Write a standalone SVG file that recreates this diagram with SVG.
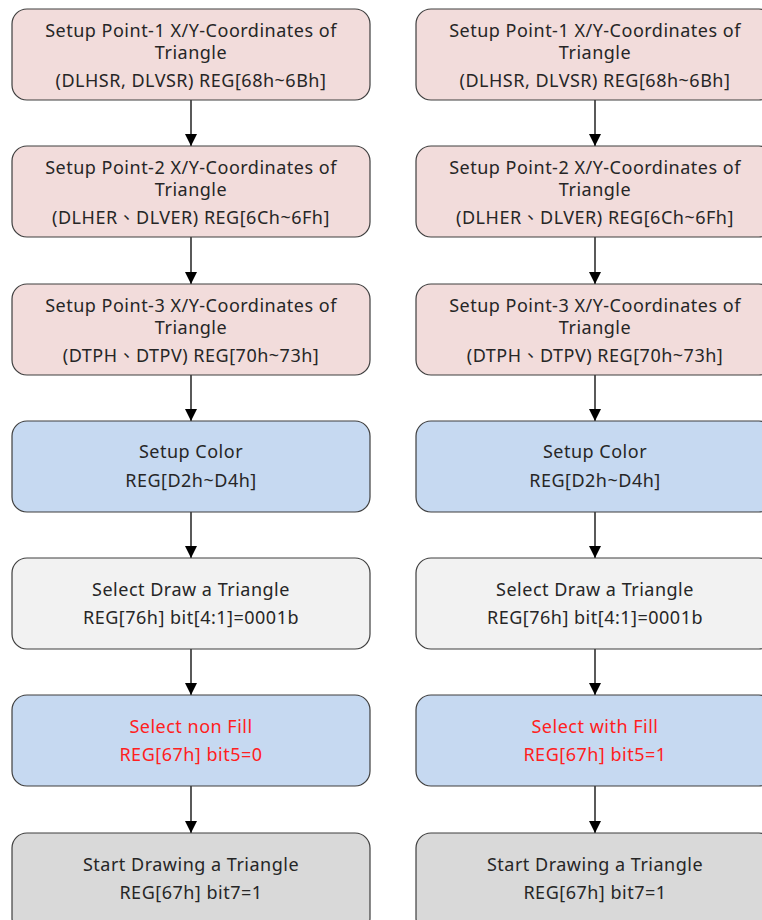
<svg xmlns="http://www.w3.org/2000/svg" width="762" height="920" viewBox="0 0 762 920">
<defs>
<marker id="ah" markerWidth="12" markerHeight="12" refX="10" refY="5" orient="auto" markerUnits="userSpaceOnUse" viewBox="0 0 10 10">
<path d="M0,0 L10,5 L0,10 z" fill="#000"/>
</marker>
<style>
.box{stroke:#3f3f3f;stroke-width:1.2}
.pink{fill:#f2dcdb}
.blue{fill:#c6d9f1}
.light{fill:#f2f2f2}
.gray{fill:#d9d9d9}
text{font-family:"Noto Sans","Noto Sans CJK TC",sans-serif;font-size:18px;letter-spacing:0.5px;fill:#262626;text-anchor:middle}
.red{fill:#ff2020}
.conn{stroke:#000;stroke-width:1.3;fill:none}
</style>
</defs>
<g id="connectors">
<line class="conn" x1="191" y1="100" x2="191" y2="146" marker-end="url(#ah)"/>
<line class="conn" x1="191" y1="237" x2="191" y2="284" marker-end="url(#ah)"/>
<line class="conn" x1="191" y1="375" x2="191" y2="421" marker-end="url(#ah)"/>
<line class="conn" x1="191" y1="512" x2="191" y2="558" marker-end="url(#ah)"/>
<line class="conn" x1="191" y1="649" x2="191" y2="695" marker-end="url(#ah)"/>
<line class="conn" x1="191" y1="786" x2="191" y2="833" marker-end="url(#ah)"/>
<line class="conn" x1="595" y1="100" x2="595" y2="146" marker-end="url(#ah)"/>
<line class="conn" x1="595" y1="237" x2="595" y2="284" marker-end="url(#ah)"/>
<line class="conn" x1="595" y1="375" x2="595" y2="421" marker-end="url(#ah)"/>
<line class="conn" x1="595" y1="512" x2="595" y2="558" marker-end="url(#ah)"/>
<line class="conn" x1="595" y1="649" x2="595" y2="695" marker-end="url(#ah)"/>
<line class="conn" x1="595" y1="786" x2="595" y2="833" marker-end="url(#ah)"/>
</g>
<g id="L1"><rect class="box pink" x="12" y="9" width="358" height="91" rx="15"/>
<text x="191" y="37">Setup Point-1 X/Y-Coordinates of</text><text x="191" y="59">Triangle</text><text x="191" y="87">(DLHSR, DLVSR) REG[68h~6Bh]</text></g>
<g id="L2"><rect class="box pink" x="12" y="146" width="358" height="91" rx="15"/>
<text x="191" y="174">Setup Point-2 X/Y-Coordinates of</text><text x="191" y="196">Triangle</text><text x="191" y="224">(DLHER、DLVER) REG[6Ch~6Fh]</text></g>
<g id="L3"><rect class="box pink" x="12" y="284" width="358" height="91" rx="15"/>
<text x="191" y="312">Setup Point-3 X/Y-Coordinates of</text><text x="191" y="334">Triangle</text><text x="191" y="362">(DTPH、DTPV) REG[70h~73h]</text></g>
<g id="L4"><rect class="box blue" x="12" y="421" width="358" height="91" rx="15"/>
<text x="191" y="458">Setup Color</text><text x="191" y="487">REG[D2h~D4h]</text></g>
<g id="L5"><rect class="box light" x="12" y="558" width="358" height="91" rx="15"/>
<text x="191" y="596">Select Draw a Triangle</text><text x="191" y="624">REG[76h] bit[4:1]=0001b</text></g>
<g id="L6"><rect class="box blue" x="12" y="695" width="358" height="91" rx="15"/>
<text class="red" x="191" y="733">Select non Fill</text><text class="red" x="191" y="761">REG[67h] bit5=0</text></g>
<g id="L7"><rect class="box gray" x="12" y="833" width="358" height="100" rx="15"/>
<text x="191" y="871">Start Drawing a Triangle</text><text x="191" y="899">REG[67h] bit7=1</text></g>
<g id="R1"><rect class="box pink" x="416" y="9" width="358" height="91" rx="15"/>
<text x="595" y="37">Setup Point-1 X/Y-Coordinates of</text><text x="595" y="59">Triangle</text><text x="595" y="87">(DLHSR, DLVSR) REG[68h~6Bh]</text></g>
<g id="R2"><rect class="box pink" x="416" y="146" width="358" height="91" rx="15"/>
<text x="595" y="174">Setup Point-2 X/Y-Coordinates of</text><text x="595" y="196">Triangle</text><text x="595" y="224">(DLHER、DLVER) REG[6Ch~6Fh]</text></g>
<g id="R3"><rect class="box pink" x="416" y="284" width="358" height="91" rx="15"/>
<text x="595" y="312">Setup Point-3 X/Y-Coordinates of</text><text x="595" y="334">Triangle</text><text x="595" y="362">(DTPH、DTPV) REG[70h~73h]</text></g>
<g id="R4"><rect class="box blue" x="416" y="421" width="358" height="91" rx="15"/>
<text x="595" y="458">Setup Color</text><text x="595" y="487">REG[D2h~D4h]</text></g>
<g id="R5"><rect class="box light" x="416" y="558" width="358" height="91" rx="15"/>
<text x="595" y="596">Select Draw a Triangle</text><text x="595" y="624">REG[76h] bit[4:1]=0001b</text></g>
<g id="R6"><rect class="box blue" x="416" y="695" width="358" height="91" rx="15"/>
<text class="red" x="595" y="733">Select with Fill</text><text class="red" x="595" y="761">REG[67h] bit5=1</text></g>
<g id="R7"><rect class="box gray" x="416" y="833" width="358" height="100" rx="15"/>
<text x="595" y="871">Start Drawing a Triangle</text><text x="595" y="899">REG[67h] bit7=1</text></g>
</svg>
